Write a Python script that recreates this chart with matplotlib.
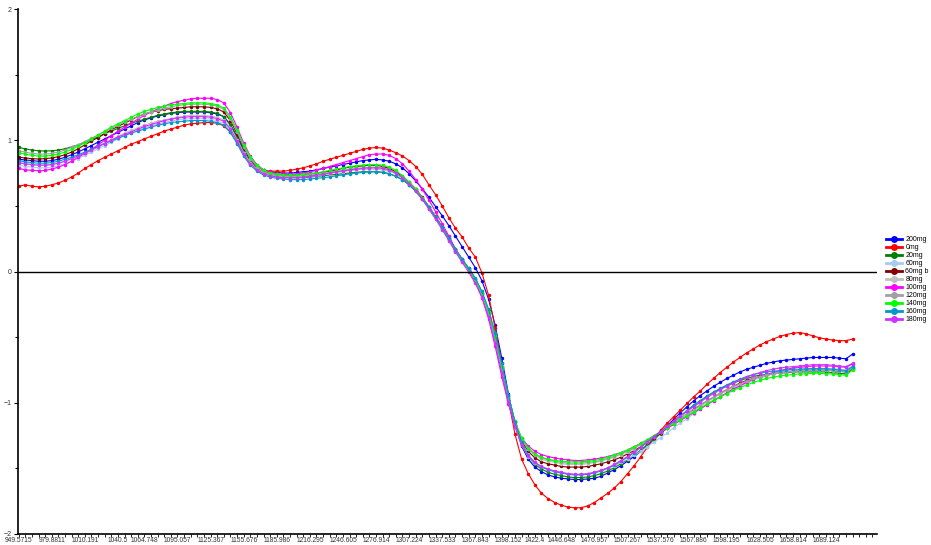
import matplotlib
matplotlib.use('Agg')
import matplotlib.pyplot as plt
from matplotlib.lines import Line2D
import numpy as np

plt.rcParams['font.family'] = ['Liberation Sans', 'DejaVu Sans']

# wavenumber tick labels (category axis, one point per tick)
tick_idx = [0, 5, 10, 15, 19, 24, 29, 34, 39, 44, 49, 54, 59, 64, 69, 74,
            78, 82, 87, 92, 97, 102, 107, 112, 117, 122]
tick_txt = ['949.5715', '979.8811', '1010.191', '1040.5', '1064.748', '1095.057',
            '1125.367', '1155.676', '1185.986', '1216.295', '1246.605', '1276.914',
            '1307.224', '1337.533', '1367.843', '1398.152', '1422.4', '1446.648',
            '1476.957', '1507.267', '1537.576', '1567.886', '1598.195', '1628.505',
            '1658.814', '1689.124']
n_ticks = 130

labels = ['200mg', '0mg', '20mg', '60mg', '60mg b', '80mg', '100mg', '120mg',
          '140mg', '160mg', '180mg']
colors = ['#0000FF', '#FF0000', '#008000', '#A6CAF0', '#800000', '#C0C0C0',
          '#FF00FF', '#A0A0A4', '#00FF00', '#0099CC', '#CC33FF']

mg200 = [0.855, 0.85, 0.845, 0.84, 0.84, 0.845, 0.855, 0.87, 0.89, 0.91,
         0.935, 0.96, 0.985, 1.01, 1.035, 1.06, 1.085, 1.11, 1.135, 1.155,
         1.17, 1.185, 1.195, 1.205, 1.21, 1.215, 1.215, 1.215, 1.215, 1.21,
         1.20, 1.18, 1.12, 1.03, 0.93, 0.85, 0.80, 0.77, 0.76, 0.755,
         0.75, 0.75, 0.755, 0.76, 0.765, 0.775, 0.785, 0.795, 0.805, 0.815,
         0.825, 0.835, 0.845, 0.85, 0.855, 0.85, 0.84, 0.82, 0.79, 0.745,
         0.69, 0.63, 0.565, 0.495, 0.425, 0.35, 0.27, 0.19, 0.11, 0.03,
         -0.07, -0.21, -0.41, -0.66, -0.93, -1.17, -1.33, -1.43, -1.49, -1.525,
         -1.55, -1.565, -1.575, -1.58, -1.585, -1.585, -1.58, -1.575, -1.56, -1.535,
         -1.51, -1.48, -1.445, -1.41, -1.37, -1.325, -1.275, -1.225, -1.175, -1.125,
         -1.075, -1.03, -0.985, -0.945, -0.91, -0.875, -0.845, -0.815, -0.79, -0.765,
         -0.745, -0.73, -0.715, -0.70, -0.69, -0.68, -0.675, -0.67, -0.665, -0.66,
         -0.655, -0.655, -0.655, -0.655, -0.66, -0.665, -0.63]

mg0 = [0.65, 0.66, 0.65, 0.645, 0.65, 0.66, 0.675, 0.695, 0.72, 0.75,
       0.785, 0.815, 0.845, 0.87, 0.895, 0.92, 0.945, 0.97, 0.99, 1.01,
       1.03, 1.05, 1.07, 1.085, 1.10, 1.115, 1.125, 1.13, 1.135, 1.135,
       1.13, 1.11, 1.06, 0.98, 0.90, 0.83, 0.79, 0.77, 0.765, 0.765,
       0.765, 0.77, 0.78, 0.79, 0.805, 0.82, 0.84, 0.855, 0.87, 0.885,
       0.90, 0.915, 0.93, 0.94, 0.945, 0.94, 0.925, 0.905, 0.88, 0.845,
       0.80, 0.74, 0.66, 0.585, 0.50, 0.41, 0.33, 0.265, 0.18, 0.11,
       -0.01, -0.18, -0.43, -0.70, -0.98, -1.24, -1.43, -1.54, -1.625, -1.69,
       -1.73, -1.76, -1.78, -1.795, -1.80, -1.80, -1.785, -1.76, -1.725, -1.69,
       -1.65, -1.60, -1.54, -1.48, -1.41, -1.34, -1.27, -1.21, -1.155, -1.105,
       -1.055, -1.005, -0.955, -0.91, -0.86, -0.815, -0.77, -0.73, -0.69, -0.655,
       -0.62, -0.59, -0.56, -0.535, -0.515, -0.495, -0.48, -0.47, -0.465, -0.475,
       -0.49, -0.505, -0.515, -0.522, -0.527, -0.527, -0.515]

mg20 = [0.945, 0.935, 0.925, 0.92, 0.918, 0.92, 0.925, 0.935, 0.95, 0.965,
        0.985, 1.005, 1.025, 1.05, 1.07, 1.09, 1.11, 1.13, 1.145, 1.16,
        1.175, 1.19, 1.20, 1.21, 1.215, 1.22, 1.22, 1.22, 1.22, 1.215,
        1.205, 1.18, 1.115, 1.02, 0.915, 0.835, 0.785, 0.75, 0.735, 0.725,
        0.72, 0.715, 0.715, 0.715, 0.72, 0.725, 0.73, 0.735, 0.74, 0.745,
        0.75, 0.755, 0.76, 0.76, 0.76, 0.755, 0.745, 0.725, 0.70, 0.66,
        0.61, 0.55, 0.48, 0.405, 0.325, 0.24, 0.155, 0.08, 0.01, -0.07,
        -0.175, -0.315, -0.505, -0.735, -0.965, -1.17, -1.32, -1.41, -1.47, -1.505,
        -1.53, -1.545, -1.555, -1.565, -1.57, -1.57, -1.565, -1.555, -1.54, -1.52,
        -1.495, -1.465, -1.435, -1.40, -1.36, -1.32, -1.28, -1.235, -1.19, -1.145,
        -1.10, -1.06, -1.02, -0.985, -0.95, -0.92, -0.895, -0.87, -0.85, -0.83,
        -0.815, -0.80, -0.79, -0.785, -0.78, -0.775, -0.77, -0.765, -0.765, -0.765,
        -0.765, -0.765, -0.765, -0.77, -0.775, -0.78, -0.745]

mg60 = [0.81, 0.80, 0.795, 0.79, 0.79, 0.795, 0.805, 0.82, 0.84, 0.86,
        0.885, 0.91, 0.935, 0.96, 0.985, 1.01, 1.035, 1.055, 1.075, 1.095,
        1.11, 1.125, 1.135, 1.145, 1.155, 1.16, 1.165, 1.165, 1.165, 1.16,
        1.15, 1.13, 1.075, 0.99, 0.895, 0.82, 0.775, 0.745, 0.73, 0.72,
        0.715, 0.715, 0.715, 0.72, 0.725, 0.73, 0.74, 0.745, 0.755, 0.76,
        0.77, 0.775, 0.78, 0.78, 0.78, 0.775, 0.765, 0.745, 0.715, 0.675,
        0.625, 0.56, 0.49, 0.415, 0.335, 0.25, 0.165, 0.085, 0.01, -0.075,
        -0.18, -0.325, -0.515, -0.745, -0.97, -1.175, -1.32, -1.41, -1.46, -1.49,
        -1.51, -1.525, -1.535, -1.54, -1.545, -1.545, -1.54, -1.53, -1.515, -1.50,
        -1.48, -1.455, -1.43, -1.40, -1.37, -1.335, -1.30, -1.265, -1.23, -1.19,
        -1.155, -1.12, -1.085, -1.05, -1.015, -0.985, -0.955, -0.925, -0.90, -0.875,
        -0.85, -0.83, -0.81, -0.795, -0.78, -0.77, -0.76, -0.755, -0.75, -0.745,
        -0.74, -0.74, -0.74, -0.74, -0.745, -0.75, -0.72]

mg60b = [0.87, 0.865, 0.86, 0.857, 0.86, 0.865, 0.875, 0.89, 0.91, 0.935,
         0.965, 0.995, 1.02, 1.05, 1.08, 1.105, 1.13, 1.155, 1.18, 1.20,
         1.215, 1.225, 1.235, 1.24, 1.245, 1.25, 1.255, 1.255, 1.255, 1.25,
         1.24, 1.215, 1.15, 1.05, 0.94, 0.855, 0.80, 0.765, 0.75, 0.74,
         0.735, 0.735, 0.735, 0.74, 0.745, 0.75, 0.755, 0.765, 0.775, 0.785,
         0.795, 0.80, 0.805, 0.81, 0.81, 0.80, 0.785, 0.76, 0.725, 0.68,
         0.63, 0.565, 0.495, 0.42, 0.34, 0.255, 0.17, 0.095, 0.025, -0.055,
         -0.16, -0.30, -0.49, -0.72, -0.95, -1.15, -1.29, -1.37, -1.42, -1.45,
         -1.465, -1.475, -1.485, -1.49, -1.49, -1.49, -1.485, -1.475, -1.465, -1.45,
         -1.435, -1.415, -1.39, -1.365, -1.335, -1.30, -1.265, -1.23, -1.195, -1.16,
         -1.125, -1.09, -1.055, -1.02, -0.99, -0.96, -0.93, -0.90, -0.875, -0.85,
         -0.83, -0.815, -0.80, -0.79, -0.78, -0.77, -0.765, -0.76, -0.755, -0.75,
         -0.75, -0.75, -0.75, -0.755, -0.76, -0.765, -0.735]

mg80 = [0.83, 0.82, 0.815, 0.81, 0.81, 0.815, 0.825, 0.84, 0.86, 0.88,
        0.905, 0.93, 0.955, 0.98, 1.005, 1.03, 1.055, 1.075, 1.095, 1.115,
        1.13, 1.145, 1.155, 1.165, 1.175, 1.185, 1.19, 1.19, 1.19, 1.185,
        1.175, 1.155, 1.095, 1.005, 0.905, 0.83, 0.78, 0.75, 0.735, 0.725,
        0.72, 0.72, 0.72, 0.725, 0.73, 0.735, 0.745, 0.75, 0.76, 0.765,
        0.77, 0.775, 0.78, 0.78, 0.78, 0.775, 0.765, 0.745, 0.715, 0.675,
        0.625, 0.56, 0.49, 0.415, 0.335, 0.25, 0.165, 0.09, 0.02, -0.06,
        -0.165, -0.305, -0.495, -0.72, -0.945, -1.14, -1.275, -1.355, -1.40, -1.43,
        -1.445, -1.455, -1.465, -1.47, -1.47, -1.47, -1.465, -1.455, -1.445, -1.43,
        -1.415, -1.395, -1.375, -1.35, -1.32, -1.29, -1.26, -1.225, -1.19, -1.155,
        -1.125, -1.09, -1.06, -1.025, -0.995, -0.965, -0.935, -0.91, -0.885, -0.86,
        -0.84, -0.82, -0.805, -0.79, -0.78, -0.77, -0.765, -0.76, -0.755, -0.75,
        -0.75, -0.75, -0.75, -0.75, -0.755, -0.76, -0.73]

mg100 = [0.785, 0.775, 0.77, 0.768, 0.77, 0.78, 0.795, 0.815, 0.84, 0.87,
         0.90, 0.93, 0.965, 1.00, 1.035, 1.07, 1.10, 1.13, 1.16, 1.19,
         1.215, 1.24, 1.26, 1.28, 1.295, 1.305, 1.315, 1.32, 1.32, 1.32,
         1.31, 1.285, 1.21, 1.10, 0.98, 0.88, 0.815, 0.775, 0.755, 0.745,
         0.74, 0.74, 0.745, 0.75, 0.76, 0.77, 0.785, 0.80, 0.815, 0.83,
         0.845, 0.86, 0.875, 0.89, 0.895, 0.895, 0.885, 0.86, 0.82, 0.765,
         0.70, 0.625, 0.545, 0.455, 0.365, 0.27, 0.175, 0.09, 0.01, -0.08,
         -0.20, -0.36, -0.57, -0.80, -1.01, -1.17, -1.27, -1.33, -1.37, -1.395,
         -1.41, -1.42, -1.43, -1.435, -1.44, -1.44, -1.435, -1.43, -1.42, -1.41,
         -1.395, -1.38, -1.36, -1.335, -1.31, -1.285, -1.255, -1.225, -1.195, -1.165,
         -1.135, -1.105, -1.075, -1.045, -1.015, -0.985, -0.955, -0.925, -0.895, -0.87,
         -0.845, -0.82, -0.80, -0.785, -0.77, -0.755, -0.745, -0.735, -0.73, -0.725,
         -0.72, -0.72, -0.72, -0.72, -0.725, -0.73, -0.705]

mg120 = [0.92, 0.91, 0.90, 0.895, 0.895, 0.90, 0.91, 0.925, 0.945, 0.965,
         0.99, 1.015, 1.04, 1.065, 1.09, 1.115, 1.14, 1.16, 1.18, 1.20,
         1.215, 1.23, 1.245, 1.255, 1.265, 1.27, 1.275, 1.275, 1.275, 1.27,
         1.26, 1.235, 1.165, 1.065, 0.95, 0.86, 0.80, 0.76, 0.74, 0.73,
         0.725, 0.725, 0.725, 0.73, 0.735, 0.74, 0.745, 0.755, 0.765, 0.77,
         0.78, 0.785, 0.79, 0.795, 0.795, 0.79, 0.775, 0.75, 0.715, 0.67,
         0.62, 0.555, 0.485, 0.41, 0.33, 0.245, 0.16, 0.085, 0.015, -0.065,
         -0.17, -0.31, -0.50, -0.73, -0.955, -1.145, -1.275, -1.35, -1.395, -1.42,
         -1.435, -1.445, -1.455, -1.46, -1.46, -1.46, -1.455, -1.45, -1.44, -1.425,
         -1.41, -1.39, -1.37, -1.345, -1.315, -1.285, -1.255, -1.22, -1.185, -1.15,
         -1.115, -1.08, -1.045, -1.015, -0.985, -0.955, -0.925, -0.90, -0.875, -0.855,
         -0.835, -0.815, -0.80, -0.79, -0.78, -0.77, -0.765, -0.76, -0.755, -0.755,
         -0.75, -0.75, -0.75, -0.755, -0.76, -0.765, -0.735]

mg140 = [0.905, 0.895, 0.885, 0.88, 0.88, 0.885, 0.895, 0.91, 0.93, 0.955,
         0.98, 1.01, 1.04, 1.07, 1.10, 1.125, 1.15, 1.175, 1.20, 1.22,
         1.235, 1.25, 1.26, 1.27, 1.275, 1.28, 1.285, 1.285, 1.285, 1.28,
         1.27, 1.245, 1.18, 1.08, 0.965, 0.875, 0.81, 0.77, 0.75, 0.74,
         0.735, 0.735, 0.735, 0.74, 0.745, 0.75, 0.76, 0.77, 0.78, 0.79,
         0.80, 0.805, 0.81, 0.815, 0.815, 0.81, 0.795, 0.77, 0.73, 0.68,
         0.625, 0.56, 0.49, 0.415, 0.335, 0.25, 0.165, 0.09, 0.02, -0.06,
         -0.165, -0.305, -0.495, -0.725, -0.95, -1.14, -1.27, -1.345, -1.39, -1.415,
         -1.43, -1.44, -1.445, -1.45, -1.45, -1.45, -1.445, -1.44, -1.43, -1.415,
         -1.40, -1.38, -1.36, -1.335, -1.31, -1.28, -1.25, -1.22, -1.19, -1.16,
         -1.13, -1.10, -1.07, -1.04, -1.01, -0.98, -0.955, -0.93, -0.905, -0.885,
         -0.865, -0.845, -0.83, -0.815, -0.805, -0.795, -0.79, -0.785, -0.78, -0.78,
         -0.775, -0.775, -0.78, -0.78, -0.785, -0.79, -0.75]

mg160 = [0.845, 0.835, 0.83, 0.825, 0.825, 0.83, 0.84, 0.855, 0.87, 0.89,
         0.91, 0.93, 0.955, 0.975, 0.995, 1.015, 1.035, 1.055, 1.07, 1.085,
         1.10, 1.115, 1.125, 1.135, 1.14, 1.145, 1.15, 1.15, 1.15, 1.145,
         1.135, 1.115, 1.06, 0.975, 0.88, 0.81, 0.765, 0.735, 0.72, 0.71,
         0.705, 0.70, 0.70, 0.70, 0.705, 0.71, 0.715, 0.72, 0.73, 0.735,
         0.745, 0.75, 0.755, 0.76, 0.76, 0.755, 0.745, 0.725, 0.70, 0.66,
         0.615, 0.555, 0.49, 0.415, 0.34, 0.255, 0.17, 0.095, 0.025, -0.05,
         -0.15, -0.285, -0.47, -0.70, -0.94, -1.15, -1.30, -1.40, -1.455, -1.49,
         -1.51, -1.525, -1.535, -1.545, -1.55, -1.55, -1.545, -1.535, -1.52, -1.50,
         -1.475, -1.445, -1.415, -1.38, -1.34, -1.30, -1.26, -1.22, -1.18, -1.14,
         -1.10, -1.06, -1.02, -0.985, -0.95, -0.92, -0.89, -0.865, -0.84, -0.82,
         -0.80, -0.785, -0.775, -0.765, -0.76, -0.755, -0.75, -0.745, -0.745, -0.74,
         -0.74, -0.74, -0.74, -0.745, -0.75, -0.755, -0.725]

mg180 = [0.83, 0.82, 0.815, 0.81, 0.81, 0.815, 0.825, 0.84, 0.86, 0.88,
         0.90, 0.925, 0.95, 0.975, 1.00, 1.025, 1.045, 1.065, 1.085, 1.105,
         1.12, 1.135, 1.15, 1.16, 1.17, 1.175, 1.18, 1.18, 1.18, 1.175,
         1.165, 1.145, 1.085, 0.995, 0.895, 0.82, 0.775, 0.745, 0.73, 0.72,
         0.715, 0.715, 0.715, 0.72, 0.725, 0.735, 0.74, 0.75, 0.76, 0.765,
         0.775, 0.78, 0.785, 0.79, 0.79, 0.785, 0.775, 0.75, 0.715, 0.67,
         0.615, 0.55, 0.475, 0.40, 0.32, 0.235, 0.15, 0.07, -0.005, -0.09,
         -0.195, -0.345, -0.545, -0.775, -0.995, -1.185, -1.32, -1.405, -1.455, -1.485,
         -1.505, -1.52, -1.53, -1.54, -1.545, -1.545, -1.54, -1.53, -1.515, -1.495,
         -1.47, -1.44, -1.41, -1.375, -1.34, -1.30, -1.26, -1.22, -1.18, -1.14,
         -1.10, -1.065, -1.03, -0.995, -0.96, -0.93, -0.90, -0.875, -0.85, -0.825,
         -0.805, -0.785, -0.77, -0.755, -0.745, -0.735, -0.73, -0.725, -0.72, -0.715,
         -0.71, -0.71, -0.71, -0.715, -0.72, -0.725, -0.70]

series = [mg200, mg0, mg20, mg60, mg60b, mg80, mg100, mg120, mg140, mg160, mg180]

fig = plt.figure(figsize=(9.31, 5.45), dpi=100)
ax = fig.add_axes([18 / 931, 11 / 545, (877 - 18) / 931, (535 - 10) / 545])

for vals, col in zip(series, colors):
    x = np.arange(len(vals))
    ax.plot(x, vals, color=col, lw=0.8, marker='o', ms=1.5, mec=col, mfc=col)

ax.axhline(0, color='black', lw=1)

ax.set_xlim(-0.1, 129.7)
ax.set_ylim(-2, 2)

# ticks on every category, labels only where the original shows them
ax.set_xticks(np.arange(n_ticks))
lbl = [''] * n_ticks
for i, t in zip(tick_idx, tick_txt):
    lbl[i] = t
ax.set_xticklabels(lbl)
ax.tick_params(axis='x', length=2, width=0.6, labelsize=4.8, pad=0.3, colors='black',
               labelcolor='#333333')

ax.set_yticks([-2, -1, 0, 1, 2])
ax.set_yticks([-1.5, -0.5, 0.5, 1.5], minor=True)
ax.tick_params(axis='y', which='major', length=3, width=0.8, labelsize=5,
               pad=1.5, labelcolor='#333333')
ax.tick_params(axis='y', which='minor', length=2, width=0.8)

for s in ['top', 'right']:
    ax.spines[s].set_visible(False)
for s in ['left', 'bottom']:
    ax.spines[s].set_linewidth(1.2)

handles = [Line2D([0], [0], color=c, lw=2, marker='o', ms=4) for c in colors]
fig.legend(handles, labels, loc='upper left', bbox_to_anchor=(886 / 931, 1 - 236 / 545),
           frameon=False, fontsize=5, handlelength=2.3, handletextpad=0.5,
           labelspacing=0.15, borderaxespad=0, borderpad=0)

fig.savefig('out.png', dpi=100)
